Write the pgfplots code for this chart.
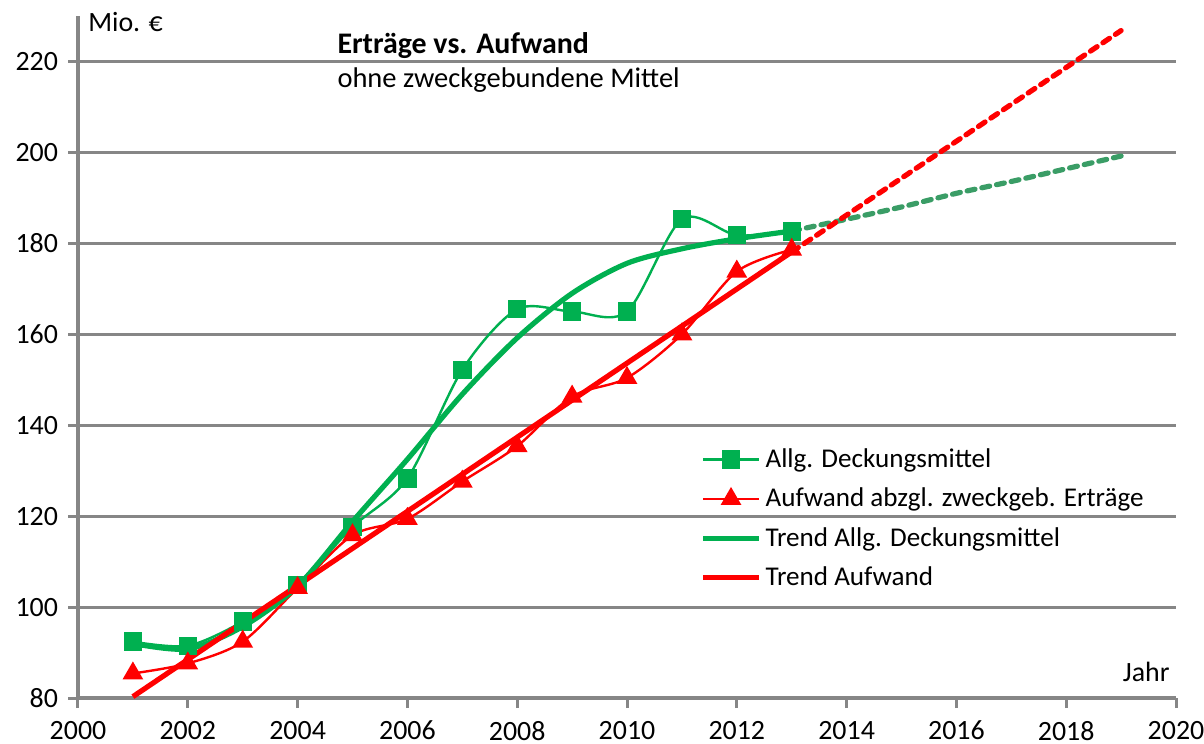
\documentclass[border=0pt]{standalone}
\usepackage{fontspec}
\setmainfont{Carlito}
\usepackage{pgfplots}
\pgfplotsset{compat=1.18}
\definecolor{xgreen}{HTML}{00B050}
\definecolor{dgreen}{HTML}{3A9D66}
\definecolor{xred}{HTML}{FF0000}
\definecolor{axgray}{HTML}{868686}

\begin{document}
\begin{tikzpicture}
\useasboundingbox (0,0) rectangle (602bp,372bp);
\begin{axis}[
  at={(39bp,23bp)}, anchor=south west,
  scale only axis, width=549bp, height=341bp,
  xmin=2000, xmax=2020, ymin=80, ymax=230,
  axis lines*=left,
  xtick={2000,2002,...,2020}, ytick={80,100,...,220},
  ymajorgrids,
  grid style={axgray, line width=1.5bp},
  axis line style={axgray, line width=2bp},
  tick style={axgray, line width=1.5bp},
  tick align=outside, major tick length=5bp,
  /pgf/number format/assume math mode=true,
  /pgf/number format/1000 sep={},
  ticklabel style={font=\fontsize{14}{14}\selectfont},
  yticklabel style={xshift=-1.5bp},
  xticklabel style={yshift=-3bp},
  clip=false,
  legend cell align=left,
  legend style={at={(rel axis cs:0.5665,0.372)}, anchor=north west, draw=none, fill=none,
    font=\fontsize{13.6}{15}\selectfont, row sep=4.8bp, inner sep=0pt,
    /tikz/every even column/.append style={column sep=2bp}},
  legend image code/.code={\draw[mark repeat=2,mark phase=2,#1] plot coordinates {(0bp,0bp)(14bp,0bp)(28bp,0bp)};},
]
% data series
\addplot[xgreen, line width=1.2bp, smooth, tension=0.5, mark=square*, mark size=4bp, mark options={solid, fill=xgreen, draw=xgreen}]
  coordinates {(2001,92.4)(2002,91.5)(2003,96.8)(2004,104.8)(2005,117.6)(2006,128.3)(2007,152.2)(2008,165.5)(2009,165.0)(2010,165.0)(2011,185.3)(2012,181.8)(2013,182.6)};
\addlegendentry{Allg. Deckungsmittel}
\addplot[xred, line width=1.2bp, smooth, tension=0.5, mark=triangle*, mark size=4.8bp, mark options={solid, fill=xred, draw=xred}]
  coordinates {(2001,85.4)(2002,87.6)(2003,92.4)(2004,104.2)(2005,115.8)(2006,119.4)(2007,127.6)(2008,135.4)(2009,146.3)(2010,150.4)(2011,160.0)(2012,173.8)(2013,178.6)};
\addlegendentry{Aufwand abzgl. zweckgeb. Erträge}
% trends
\addplot[xgreen, line width=2.6bp, smooth, tension=0.5]
  coordinates {(2001,92.0)(2002,90.8)(2003,95.7)(2004,104.6)(2005,118.8)(2006,132.5)(2007,146.8)(2008,159.2)(2009,169.0)(2010,175.6)(2011,178.8)(2012,181.0)(2013,182.7)};
\addlegendentry{Trend Allg. Deckungsmittel}
\addplot[xred, line width=2.6bp]
  coordinates {(2001,80.3)(2013,178.1)};
\addlegendentry{Trend Aufwand}
\addplot[dgreen, line width=2.6bp, dash pattern=on 4bp off 3.5bp, line cap=round, smooth, forget plot]
  coordinates {(2013,182.7)(2014,185.3)(2015,188.0)(2016,191.0)(2017,193.6)(2018,196.4)(2019,199.2)};
\addplot[xred, line width=2.6bp, dash pattern=on 4bp off 3.5bp, line cap=round, forget plot]
  coordinates {(2013,178.1)(2019,226.8)};
% texts
\node[anchor=west, font=\fontsize{15}{15}\selectfont\bfseries, inner sep=0pt] at (rel axis cs:0.236,0.957) {Erträge vs. Aufwand};
\node[anchor=west, font=\fontsize{14.3}{15}\selectfont, inner sep=0pt] at (rel axis cs:0.236,0.906) {ohne zweckgebundene Mittel};
\node[anchor=west, font=\fontsize{14}{14}\selectfont, inner sep=0pt] at (rel axis cs:0.009,0.991) {Mio. €};
\node[anchor=east, font=\fontsize{14}{14}\selectfont, inner sep=0pt] at (rel axis cs:0.9945,0.038) {Jahr};
\end{axis}
\end{tikzpicture}
\end{document}
